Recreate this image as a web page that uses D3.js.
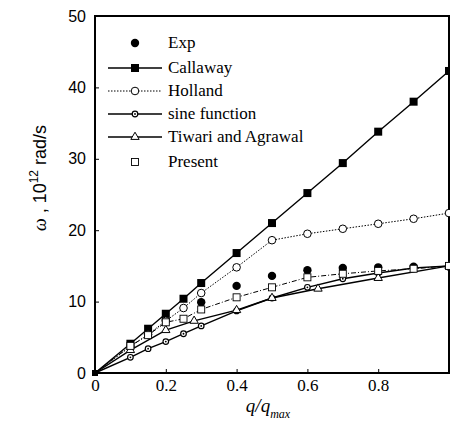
<!DOCTYPE html>
<html lang="en">
<head>
	<title>Dispersion curves</title>
	<script type="text/javascript" src="https://cdn.jsdelivr.net/npm/d3@7"></script>
	<style>
		body { margin: 0; background: #fff; }
		.tick text { fill: #000; }
		.ylab { font-family: "Liberation Sans", Arial, sans-serif; font-size: 16px; }
		.xlab { font-family: "Liberation Serif", "Times New Roman", serif; font-size: 17px; }
		.legend text { font-family: "Liberation Serif", "Times New Roman", serif; font-size: 17px; }
	</style>
</head>
<body>
	<div id="chart"></div>

	<script type="text/javascript">

		// values
		var expQ = [0.2, 0.3, 0.4, 0.5, 0.6, 0.7, 0.8, 0.9, 1.0];
		var expW = [7.5, 9.9, 12.2, 13.6, 14.4, 14.7, 14.8, 14.9, 14.9];

		var callawayQ = [0, 0.1, 0.15, 0.2, 0.25, 0.3, 0.4, 0.5, 0.6, 0.7, 0.8, 0.9, 1.0];
		var callawayW = [0, 4.1, 6.2, 8.3, 10.4, 12.6, 16.8, 21.0, 25.2, 29.4, 33.8, 38.0, 42.3];

		var hollandQ = [0, 0.1, 0.15, 0.2, 0.25, 0.3, 0.4, 0.5, 0.6, 0.7, 0.8, 0.9, 1.0];
		var hollandW = [0, 3.7, 5.4, 7.3, 9.1, 11.2, 14.8, 18.6, 19.5, 20.2, 20.9, 21.6, 22.4];

		var sineQ = [0, 0.1, 0.15, 0.2, 0.25, 0.3, 0.4, 0.5, 0.6, 0.7, 0.8, 0.9, 1.0];
		var sineW = [0, 2.2, 3.4, 4.4, 5.5, 6.6, 8.7, 10.5, 12.0, 13.2, 14.0, 14.7, 15.0];

		var tiwariQ = [0, 0.1, 0.2, 0.28, 0.4, 0.5, 0.63, 0.8, 1.0];
		var tiwariW = [0, 3.2, 6.0, 7.3, 8.8, 10.5, 11.8, 13.3, 15.0];

		var presentQ = [0, 0.1, 0.15, 0.2, 0.25, 0.3, 0.4, 0.5, 0.6, 0.7, 0.8, 0.9, 1.0];
		var presentW = [0, 3.8, 5.3, 7.1, 7.6, 8.9, 10.6, 12.0, 13.4, 13.9, 14.3, 14.6, 15.0];

		var xTicks = [0, 0.2, 0.4, 0.6, 0.8];
		var yTicks = [0, 10, 20, 30, 40, 50];

		var w = 450,
		    h = 441;
		var mLeft = 95, mRight = 449, mTop = 16, mBottom = 373;

		var x = d3.scaleLinear().domain([0, 1]).range([mLeft, mRight]);
		var y = d3.scaleLinear().domain([0, 50]).range([mBottom, mTop]);

		var svg = d3.select("#chart")
			.append("svg")
			.attr("width", w)
			.attr("height", h);

		function pts(qs, ws) {
			return qs.map(function(q, i) { return [q, ws[i]]; });
		}

		var line = d3.line()
			.x(function(d) { return x(d[0]); })
			.y(function(d) { return y(d[1]); });

		// axes
		var xAxis = d3.axisBottom(x).tickValues(xTicks).tickSize(-4).tickPadding(6)
			.tickFormat(function(d) { return d === 0 ? "0" : d3.format(".1f")(d); });
		var gx = svg.append("g").attr("transform", "translate(0," + mBottom + ")").call(xAxis);
		gx.selectAll("text").attr("class", "xlab");
		gx.select(".domain").remove();

		var yAxis = d3.axisLeft(y).tickValues(yTicks).tickSize(-4).tickPadding(9);
		var gy = svg.append("g").attr("transform", "translate(" + mLeft + ",0)").call(yAxis);
		gy.selectAll("text").attr("class", "ylab");
		gy.select(".domain").remove();
		svg.selectAll(".tick line").attr("stroke", "#000");

		// frame
		svg.append("rect")
			.attr("x", mLeft).attr("y", mTop)
			.attr("width", mRight - mLeft).attr("height", mBottom - mTop)
			.attr("fill", "none").attr("stroke", "#000").attr("stroke-width", 2);

		// series definitions
		var series = [
			{ name: "Exp", data: pts(expQ, expW), line: false, marker: "dot" },
			{ name: "Callaway", data: pts(callawayQ, callawayW), line: "solid", marker: "square" },
			{ name: "Holland", data: pts(hollandQ, hollandW), line: "dotted", marker: "circle" },
			{ name: "sine function", data: pts(sineQ, sineW), line: "solid", marker: "smallcircle" },
			{ name: "Tiwari and Agrawal", data: pts(tiwariQ, tiwariW), line: "solid", marker: "triangle" },
			{ name: "Present", data: pts(presentQ, presentW), line: "dashdot", marker: "opensquare" }
		];

		function dash(s) {
			if (s === "dotted") return "1.5,1.5";
			if (s === "dashdot") return "5,2,1,2";
			return null;
		}

		function drawMarker(g, kind, cx, cy) {
			if (kind === "dot") {
				g.append("circle").attr("cx", cx).attr("cy", cy).attr("r", 4.2).attr("fill", "#000");
			} else if (kind === "square") {
				g.append("rect").attr("x", cx - 4).attr("y", cy - 4).attr("width", 8).attr("height", 8).attr("fill", "#000");
			} else if (kind === "circle") {
				g.append("circle").attr("cx", cx).attr("cy", cy).attr("r", 3.8)
					.attr("fill", "#fff").attr("stroke", "#000").attr("stroke-width", 1);
			} else if (kind === "smallcircle") {
				g.append("circle").attr("cx", cx).attr("cy", cy).attr("r", 2.8)
					.attr("fill", "#fff").attr("stroke", "#000").attr("stroke-width", 1.2);
				g.append("circle").attr("cx", cx).attr("cy", cy).attr("r", 0.9).attr("fill", "#000");
			} else if (kind === "triangle") {
				g.append("path")
					.attr("d", d3.symbol().type(d3.symbolTriangle).size(30)())
					.attr("transform", "translate(" + cx + "," + cy + ")")
					.attr("fill", "#fff").attr("stroke", "#000").attr("stroke-width", 1);
			} else if (kind === "opensquare") {
				g.append("rect").attr("x", cx - 3.5).attr("y", cy - 3.5).attr("width", 7).attr("height", 7)
					.attr("fill", "#fff").attr("stroke", "#000").attr("stroke-width", 0.9);
			}
		}

		var plot = svg.append("g");
		series.forEach(function(s) {
			if (s.line) {
				plot.append("path")
					.datum(s.data)
					.attr("d", line)
					.attr("fill", "none")
					.attr("stroke", "#000")
					.attr("stroke-width", s.line === "solid" ? 1.4 : 1)
					.attr("stroke-dasharray", dash(s.line));
			}
		});
		series.forEach(function(s) {
			var g = plot.append("g");
			s.data.forEach(function(d) {
				if (d[0] === 0) return;
				drawMarker(g, s.marker, x(d[0]), y(d[1]));
			});
		});
		// origin marker
		plot.append("rect").attr("x", x(0) - 3).attr("y", y(0) - 3).attr("width", 6).attr("height", 6).attr("fill", "#000");

		// legend
		var legend = svg.append("g").attr("class", "legend");
		var legY = [43, 68, 91, 114, 137, 162];
		series.forEach(function(s, i) {
			var ly = legY[i];
			if (s.line && s.line !== "dashdot") {
				legend.append("line")
					.attr("x1", 108).attr("x2", 162).attr("y1", ly).attr("y2", ly)
					.attr("stroke", "#000")
					.attr("stroke-width", s.line === "solid" ? 1.4 : 1)
					.attr("stroke-dasharray", dash(s.line));
			}
			drawMarker(legend, s.marker, 135, ly);
			legend.append("text")
				.attr("x", 168).attr("y", ly + 5)
				.text(s.name);
		});

		// y label
		var yl = svg.append("text")
			.attr("transform", "translate(46,178) rotate(-90)")
			.attr("text-anchor", "middle")
			.style("font-family", "'Liberation Sans', Arial, sans-serif")
			.style("font-size", "18px");
		yl.append("tspan").style("font-family", "'Liberation Serif', serif").style("font-style", "italic").text("ω");
		yl.append("tspan").text(" , 10");
		yl.append("tspan").attr("dy", -8).style("font-size", "12px").text("12");
		yl.append("tspan").attr("dy", 8).text(" rad/s");

		// x label
		var xl = svg.append("text")
			.attr("x", 268).attr("y", 412)
			.attr("text-anchor", "middle")
			.style("font-family", "'Liberation Serif', serif")
			.style("font-style", "italic")
			.style("font-size", "19px");
		xl.append("tspan").text("q/q");
		xl.append("tspan").attr("dy", 6).style("font-size", "12px").text("max");

	</script>
</body>
</html>
